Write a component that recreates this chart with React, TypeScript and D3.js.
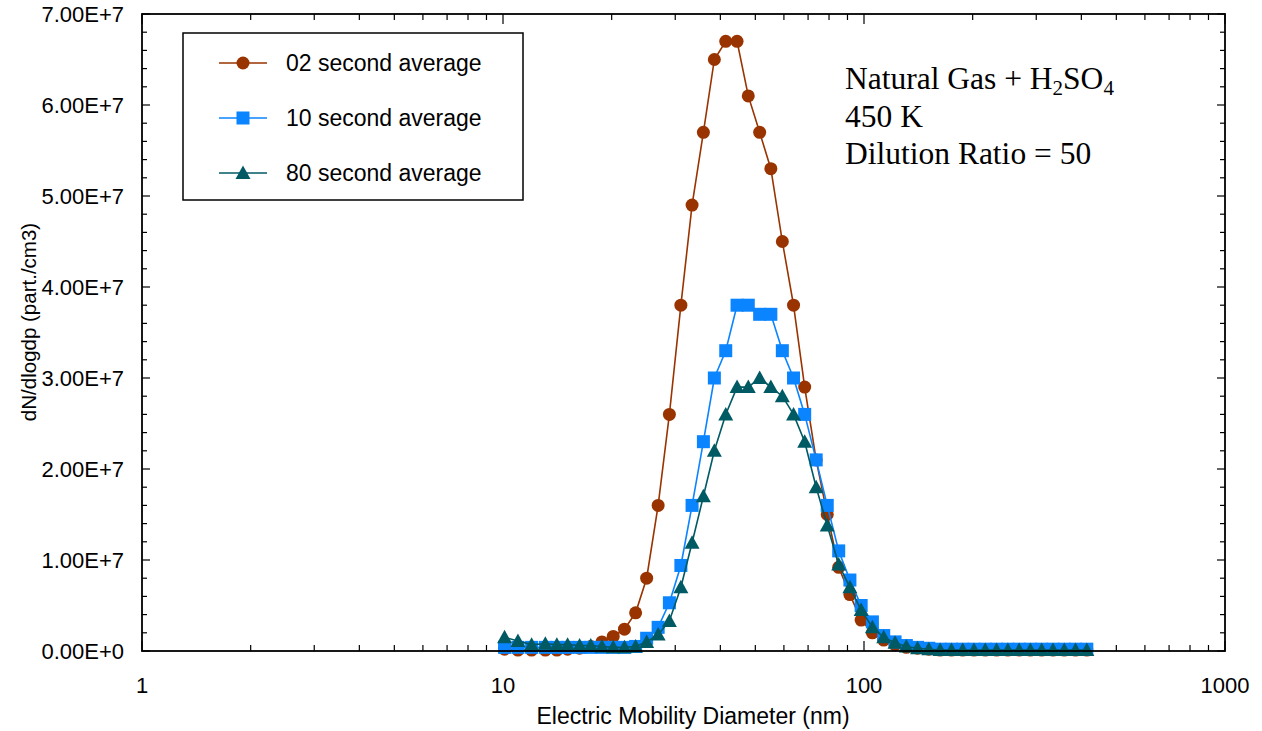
import React from "react";
import * as d3 from "d3";

// Electric mobility diameter channels (nm)
const diameters = [
  10.1, 11.0, 12.0, 13.1, 14.1, 15.1, 16.3, 17.5, 18.8, 20.2,
  21.7, 23.3, 25.0, 26.9, 28.9, 31.1, 33.4, 35.9, 38.5, 41.4,
  44.5, 47.8, 51.4, 55.2, 59.4, 63.8, 68.5, 73.7, 79.1, 85.1,
  91.4, 98.2, 105.5, 113.4, 121.9, 131.0, 140.7, 151.2, 162.5, 174.7,
  187.7, 201.7, 216.7, 232.9, 250.3, 269.0, 289.0, 310.6, 333.8, 358.7,
  385.4, 414.2,
];

// dN/dlogdp in units of 1e7 part./cm3
const avg02 = [
  0.02, 0.01, 0.01, 0.01, 0.01, 0.02, 0.03, 0.05, 0.1, 0.16,
  0.24, 0.42, 0.8, 1.6, 2.6, 3.8, 4.9, 5.7, 6.5, 6.7,
  6.7, 6.1, 5.7, 5.3, 4.5, 3.8, 2.9, 2.1, 1.5, 0.92,
  0.62, 0.34, 0.2, 0.12, 0.07, 0.04, 0.03, 0.02, 0.01, 0.01,
  0.01, 0.01, 0.01, 0.01, 0.01, 0.01, 0.01, 0.01, 0.01, 0.01,
  0.01, 0.01,
];
const avg10 = [
  0.04, 0.04, 0.04, 0.04, 0.04, 0.04, 0.04, 0.04, 0.04, 0.04,
  0.04, 0.05, 0.14, 0.26, 0.53, 0.94, 1.6, 2.3, 3.0, 3.3,
  3.8, 3.8, 3.7, 3.7, 3.3, 3.0, 2.6, 2.1, 1.6, 1.1,
  0.78, 0.5, 0.32, 0.17, 0.1, 0.06, 0.04, 0.03, 0.02, 0.02,
  0.02, 0.02, 0.02, 0.02, 0.02, 0.02, 0.02, 0.02, 0.02, 0.02,
  0.02, 0.02,
];
const avg80 = [
  0.15, 0.11, 0.07, 0.08, 0.07, 0.07, 0.06, 0.06, 0.05, 0.04,
  0.04, 0.05, 0.1, 0.18, 0.33, 0.7, 1.19, 1.7, 2.2, 2.6,
  2.9, 2.9, 3.0, 2.9, 2.8, 2.6, 2.3, 1.8, 1.38, 0.95,
  0.7, 0.45, 0.26, 0.15, 0.09, 0.05, 0.03, 0.02, 0.01, 0.01,
  0.01, 0.01, 0.01, 0.01, 0.01, 0.01, 0.01, 0.01, 0.01, 0.01,
  0.01, 0.01,
];

const seriesNames = ["02 second average", "10 second average", "80 second average"];
const seriesColors = ["#993300", "#0a84ff", "#005a64"];
const seriesShapes = ["circle", "square", "triangle"];

const xMajorTicks = [1, 10, 100, 1000];
const yMajorTicks = [0, 1e7, 2e7, 3e7, 4e7, 5e7, 6e7, 7e7];
const yTickLabels = ["0.00E+0", "1.00E+7", "2.00E+7", "3.00E+7", "4.00E+7", "5.00E+7", "6.00E+7", "7.00E+7"];

const W = 1262;
const H = 731;
const left = 142;
const right = 1225;
const top = 14;
const bottom = 651;

const x = d3.scaleLog().domain([1, 1000]).range([left, right]);
const y = d3.scaleLinear().domain([0, 7e7]).range([bottom, top]);

const sans = "Arial, 'Liberation Sans', Helvetica, sans-serif";
const serif = "'Times New Roman', 'Liberation Serif', Times, serif";

function Marker({ shape, cx, cy, color }: { shape: string; cx: number; cy: number; color: string }) {
  if (shape === "circle") return <circle cx={cx} cy={cy} r={6.5} fill={color} />;
  if (shape === "square") return <rect x={cx - 6.5} y={cy - 6.5} width={13} height={13} fill={color} />;
  const s = 7.5;
  return (
    <path
      d={`M${cx},${cy - s} L${cx + s},${cy + s * 0.8} L${cx - s},${cy + s * 0.8} Z`}
      fill={color}
    />
  );
}

export default function App() {
  const allSeries = [avg02, avg10, avg80];
  const line = d3
    .line<number>()
    .x((_, i) => x(diameters[i]))
    .y((v) => y(v * 1e7));

  const xMinor: number[] = [];
  for (const dec of [1, 10, 100]) for (let m = 2; m <= 9; m++) xMinor.push(dec * m);
  const yMinor: number[] = [];
  for (let v = 0; v <= 7e7 + 1; v += 2e6) if (v % 1e7 !== 0) yMinor.push(v);

  return (
    <svg
      width={W}
      height={H}
      style={{ position: "absolute", left: 0, top: 0, background: "#fff" }}
    >
      <rect x={0} y={0} width={W} height={H} fill="#fff" />

      {/* ticks, inside on all four sides */}
      <g stroke="#000" strokeWidth={1.2}>
        {xMajorTicks.map((t) => (
          <g key={"xM" + t}>
            <line x1={x(t)} x2={x(t)} y1={bottom} y2={bottom - 10} />
            <line x1={x(t)} x2={x(t)} y1={top} y2={top + 10} />
          </g>
        ))}
        {xMinor.map((t) => (
          <g key={"xm" + t}>
            <line x1={x(t)} x2={x(t)} y1={bottom} y2={bottom - 6} />
            <line x1={x(t)} x2={x(t)} y1={top} y2={top + 6} />
          </g>
        ))}
        {yMajorTicks.map((t) => (
          <g key={"yM" + t}>
            <line x1={left} x2={left + 8} y1={y(t)} y2={y(t)} />
            <line x1={right} x2={right - 8} y1={y(t)} y2={y(t)} />
          </g>
        ))}
        {yMinor.map((t) => (
          <g key={"ym" + t}>
            <line x1={left} x2={left + 5} y1={y(t)} y2={y(t)} />
            <line x1={right} x2={right - 5} y1={y(t)} y2={y(t)} />
          </g>
        ))}
      </g>

      {/* series */}
      {allSeries.map((vals, si) => (
        <g key={si}>
          <path d={line(vals) || ""} fill="none" stroke={seriesColors[si]} strokeWidth={1.6} />
          {vals.map((v, i) => (
            <Marker
              key={i}
              shape={seriesShapes[si]}
              cx={x(diameters[i])}
              cy={y(v * 1e7)}
              color={seriesColors[si]}
            />
          ))}
        </g>
      ))}

      {/* plot frame */}
      <rect
        x={left}
        y={top}
        width={right - left}
        height={bottom - top}
        fill="none"
        stroke="#000"
        strokeWidth={1.8}
      />

      {/* x tick labels */}
      {xMajorTicks.map((t) => (
        <text key={"xl" + t} x={x(t)} y={693} textAnchor="middle" fontFamily={sans} fontSize={22} fill="#000">
          {t}
        </text>
      ))}
      {/* y tick labels */}
      {yMajorTicks.map((t, i) => (
        <text
          key={"yl" + t}
          x={124}
          y={y(t)}
          dy="0.35em"
          textAnchor="end"
          fontFamily={sans}
          fontSize={22}
          fill="#000"
        >
          {yTickLabels[i]}
        </text>
      ))}

      {/* axis titles */}
      <text x={693} y={724} textAnchor="middle" fontFamily={sans} fontSize={23} fill="#000">
        Electric Mobility Diameter (nm)
      </text>
      <text
        transform={`translate(36, 322) rotate(-90)`}
        textAnchor="middle"
        fontFamily={sans}
        fontSize={20.5}
        fill="#000"
      >
        dN/dlogdp (part./cm3)
      </text>

      {/* legend */}
      <rect x={183} y={33} width={340} height={167} fill="#fff" stroke="#000" strokeWidth={1.5} />
      {seriesNames.map((name, i) => {
        const ly = 63 + i * 55;
        return (
          <g key={name}>
            <line x1={219} x2={267} y1={ly} y2={ly} stroke={seriesColors[i]} strokeWidth={1.6} />
            <Marker shape={seriesShapes[i]} cx={243} cy={ly} color={seriesColors[i]} />
            <text x={286} y={ly} dy="0.36em" fontFamily={sans} fontSize={23} fill="#000">
              {name}
            </text>
          </g>
        );
      })}

      {/* annotation */}
      <g fontFamily={serif} fontSize={31.5} fill="#000">
        <text x={845} y={89}>
          Natural Gas + H<tspan fontSize={21} dy={6}>2</tspan>
          <tspan dy={-6}>SO</tspan>
          <tspan fontSize={21} dy={6}>4</tspan>
        </text>
        <text x={845} y={127}>450 K</text>
        <text x={845} y={164}>Dilution Ratio = 50</text>
      </g>
    </svg>
  );
}
